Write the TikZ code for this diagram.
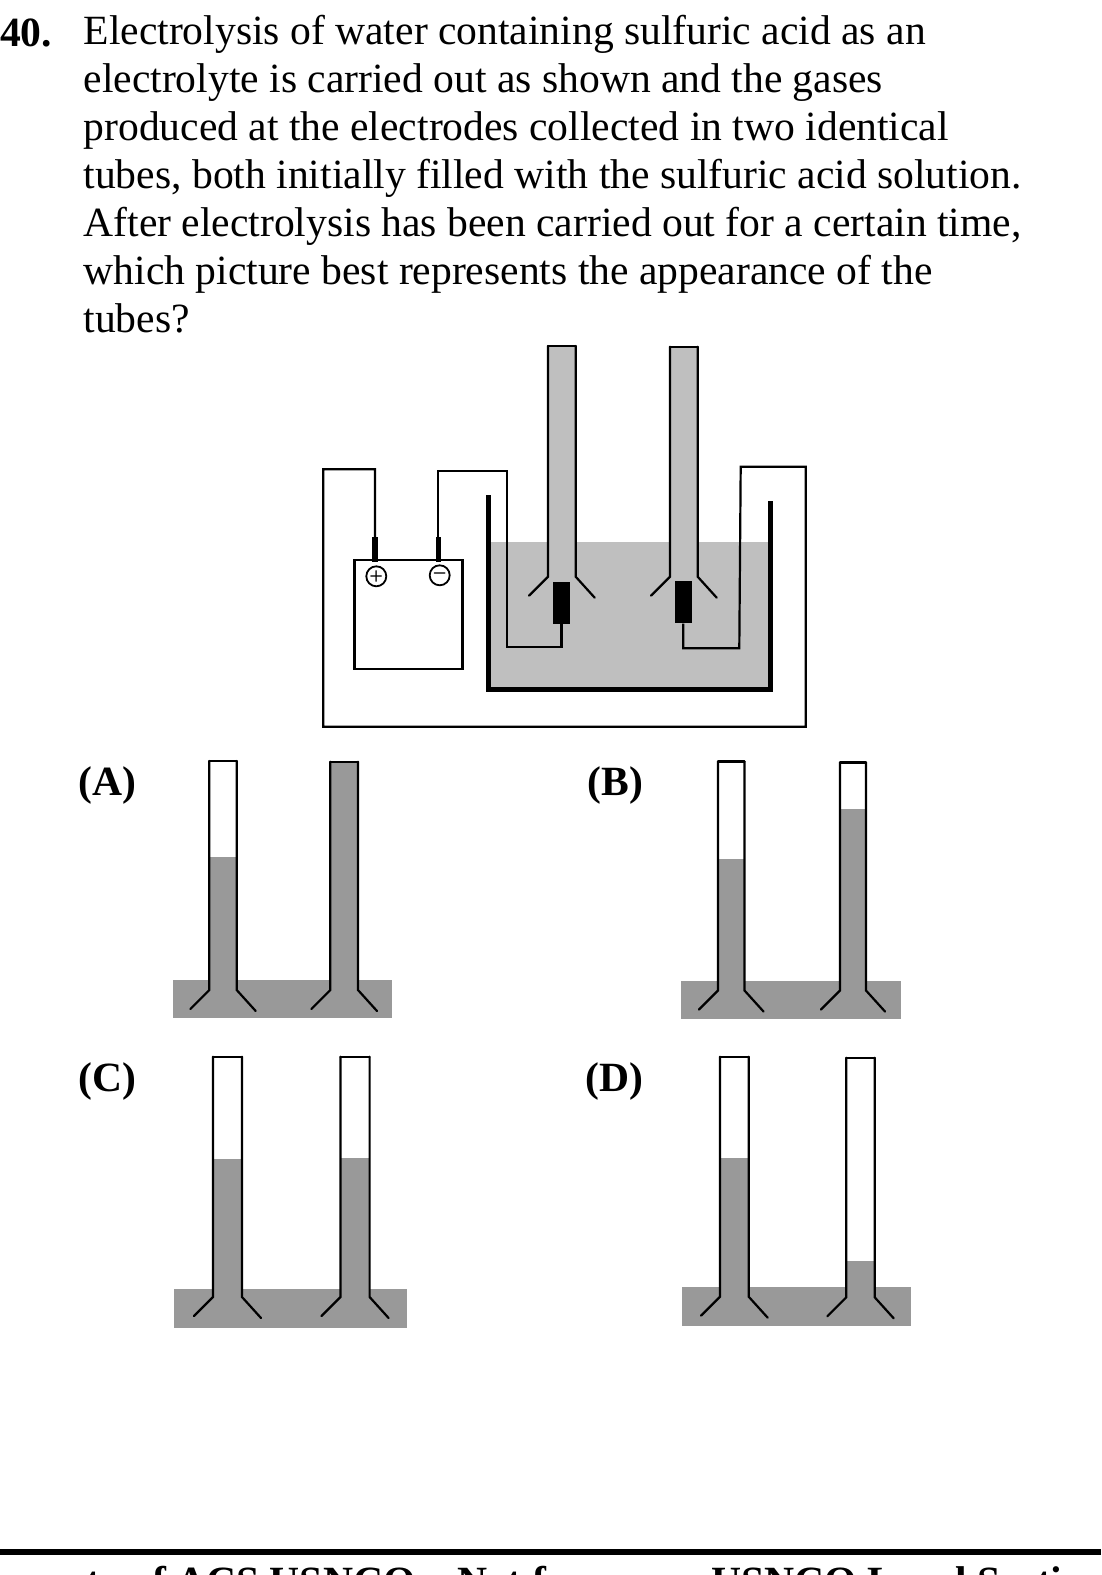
\documentclass[tikz,border=0pt]{standalone}
\usepackage{fontspec}
\setmainfont{Liberation Serif}
\usepackage{tikz}

% tube: xleft, xright, top, shoulder, liquid level, liquid colour
\newcommand{\gastube}[6]{
    \fill [#6] (#1,#5) rectangle (#2,#4);
    \draw [glass] (#1,#3) -- (#2,#3);
    \draw [glass] (#1,#3) -- (#1,#4) -- ++(-19,19);
    \draw [glass] (#2,#3) -- (#2,#4) -- ++(19,21);
}

\begin{document}
\begin{tikzpicture}[x=1pt,y=-1pt]
    \tikzstyle{glass} = [line width=2.2pt, line cap=round, black]
    \tikzstyle{wire} = [line width=2.2pt, line join=miter, black]
    \tikzstyle{label} = [inner sep=0pt, anchor=base west, font=\fontsize{41.6}{48}\selectfont\bfseries]
    \tikzstyle{bath} = [fill=bathgray]
    \tikzstyle{sign} = [circle, draw, line width=1.8pt, minimum size=20pt, inner sep=0pt, font=\fontsize{16}{16}\selectfont\sffamily\bfseries]
    \tikzstyle{post} = [fill=black, inner sep=0pt, minimum width=5.5pt, minimum height=25pt]
    \tikzstyle{electrode} = [fill=black, inner sep=0pt, minimum width=17.5pt, minimum height=42pt]
    \definecolor{cellgray}{HTML}{BFBFBF}
    \definecolor{bathgray}{HTML}{999999}

    \path [use as bounding box, clip] (0,0) rectangle (1101,1575);

    % question
    \node (number) [label] at (0,46.5) {40.};
    \node (question) [inner sep=0pt, anchor=north west, align=left, font=\fontsize{41.6}{48}\selectfont] at (83.4,15) {Electrolysis of water containing sulfuric acid as an\\
        electrolyte is carried out as shown and the gases\\
        produced at the electrodes collected in two identical\\
        tubes, both initially filled with the sulfuric acid solution.\\
        After electrolysis has been carried out for a certain time,\\
        which picture best represents the appearance of the\\
        tubes?};

    % cell
    \fill [cellgray] (488,542) rectangle (770.3,689);
    \gastube{548}{575.7}{346}{576.7}{346}{cellgray}
    \gastube{670}{697.7}{346.7}{576.7}{346.7}{cellgray}
    \draw [line width=5pt, line join=miter] (488,495) -- (488,689.3) -- (770.3,689.3) -- (770.3,500.7);

    \node (battery) [draw, line width=2.2pt, minimum width=108pt, minimum height=109pt, inner sep=0pt] at (408.5,614.5) {};
    \node (postplus) [post] at (375,549.5) {};
    \node (postminus) [post] at (438.3,549.5) {};
    \node (plus) [sign] at (376.3,576.3) {+};
    \node (minus) [sign] at (439.7,575.3) {−};
    \node (elecleft) [electrode] at (561.5,603) {};
    \node (elecright) [electrode] at (683.3,602.3) {};

    \draw [wire] (postplus.north) -- (375,469.3) -- (323.3,469.3) -- (323.3,726.7) -- (805.7,726.7) -- (805.7,466.7) -- (740.7,466.7) -- (739.3,648.3) -- (683.3,648.3) -- (elecright.south);
    \draw [wire] (postminus.north) -- (438.3,471) -- (507.3,471) -- (507.3,646.7) -- (561.5,646.7) -- (elecleft.south);

    % choice A
    \node (choiceA) [label] at (78.5,795.5) {(A)};
    \fill [bath] (172.7,980.3) rectangle (392.3,1017.7);
    \gastube{209.3}{236.7}{761}{990}{857.3}{bathgray}
    \gastube{330.3}{358}{761.7}{990}{761.7}{bathgray}

    % choice B
    \node (choiceB) [label] at (587.6,795.5) {(B)};
    \fill [bath] (681,981.4) rectangle (901,1018.6);
    \gastube{718}{744.5}{761.5}{990.5}{859}{bathgray}
    \gastube{840}{866}{762.5}{990.5}{808.6}{bathgray}

    % choice C
    \node (choiceC) [label] at (78.5,1091) {(C)};
    \fill [bath] (173.8,1288.8) rectangle (406.8,1328);
    \gastube{213}{242}{1056.7}{1297}{1159}{bathgray}
    \gastube{340.5}{369.6}{1056.7}{1297}{1158}{bathgray}

    % choice D
    \node (choiceD) [label] at (585.6,1091) {(D)};
    \fill [bath] (681.7,1286.7) rectangle (911,1325.7);
    \gastube{720}{748.7}{1056.7}{1296.7}{1158}{bathgray}
    \gastube{846.3}{874.7}{1057.7}{1297.3}{1261.3}{bathgray}

    % footer
    \fill (0,1549) rectangle (1101,1555);
    \node (footer) [inner sep=0pt, anchor=base west, font=\fontsize{41.6}{48}\selectfont\bfseries] at (-38,1595.5) {Property of ACS USNCO – Not for use as USNCO Local Section Exam};
\end{tikzpicture}
\end{document}
